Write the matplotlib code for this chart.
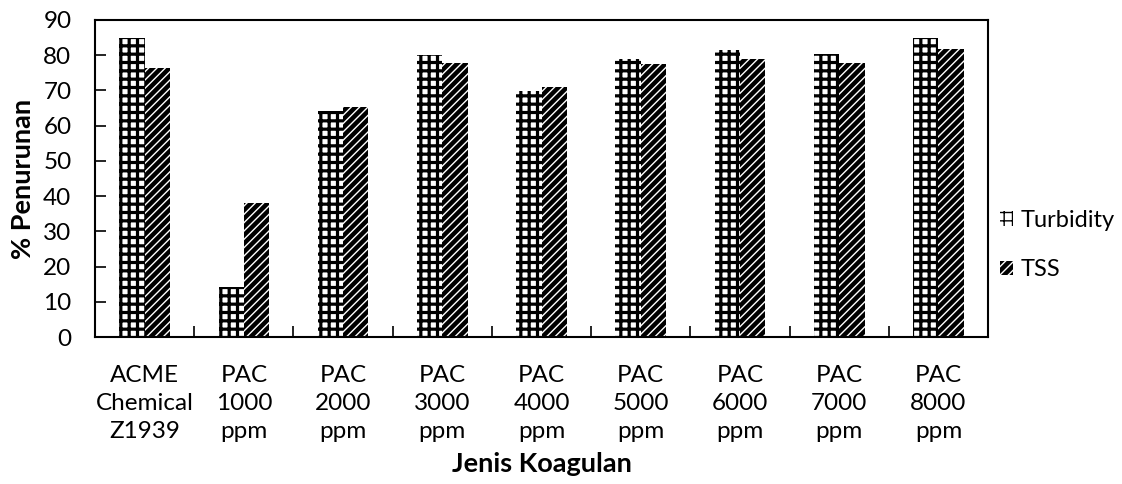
import numpy as np
import matplotlib
matplotlib.use("Agg")
import matplotlib.pyplot as plt

plt.rcParams['font.family'] = ['Lato', 'DejaVu Sans']

categories = ["ACME\nChemical\nZ1939", "PAC\n1000\nppm", "PAC\n2000\nppm", "PAC\n3000\nppm",
              "PAC\n4000\nppm", "PAC\n5000\nppm", "PAC\n6000\nppm", "PAC\n7000\nppm",
              "PAC\n8000\nppm"]
turbidity = [84.8, 14.1, 64.3, 80.1, 69.9, 78.9, 81.5, 80.3, 85.0]
tss = [76.3, 38.1, 65.4, 77.7, 70.9, 77.5, 78.9, 77.9, 81.7]

fig = plt.figure(figsize=(11.22, 4.84), dpi=100)
ax = fig.add_axes([0.0847, 0.3037, 0.7959, 0.655])

x = np.arange(len(categories))
w = 0.255
with plt.rc_context({'hatch.linewidth': 2.3}):
    ax.bar(x - w/2, turbidity, w, facecolor='white', edgecolor='black', hatch='++',
           linewidth=0, label='Turbidity')
with plt.rc_context({'hatch.linewidth': 1.0}):
    ax.bar(x + w/2, tss, w, facecolor='black', edgecolor='white', hatch='////',
           linewidth=0, label='TSS')

ax.set_xlim(-0.5, len(categories) - 0.5)
ax.set_ylim(0, 90)
ax.set_yticks(np.arange(0, 91, 10))
ax.set_xticks(x)
ax.set_xticklabels(categories, fontsize=17.5, linespacing=1.42)
ax.set_xticks(np.arange(0.5, len(categories) - 1, 1), minor=True)
ax.tick_params(axis='x', which='major', length=0, pad=20)
ax.tick_params(axis='x', which='minor', direction='in', length=8, width=1.2)
ax.tick_params(axis='y', direction='in', length=8, width=1.2, labelsize=17.5, pad=17)
for s in ax.spines.values():
    s.set_linewidth(1.5)

ax.set_xlabel('Jenis Koagulan', fontsize=19.5, fontweight='bold', labelpad=7)
ax.set_ylabel('% Penurunan', fontsize=19.5, fontweight='bold', labelpad=6)

ax.legend(loc='center left', bbox_to_anchor=(0.99, 0.29), frameon=False, fontsize=17,
          handlelength=0.55, handleheight=0.55, handletextpad=0.3, labelspacing=1.2)

fig.savefig('out.png', dpi=100)
